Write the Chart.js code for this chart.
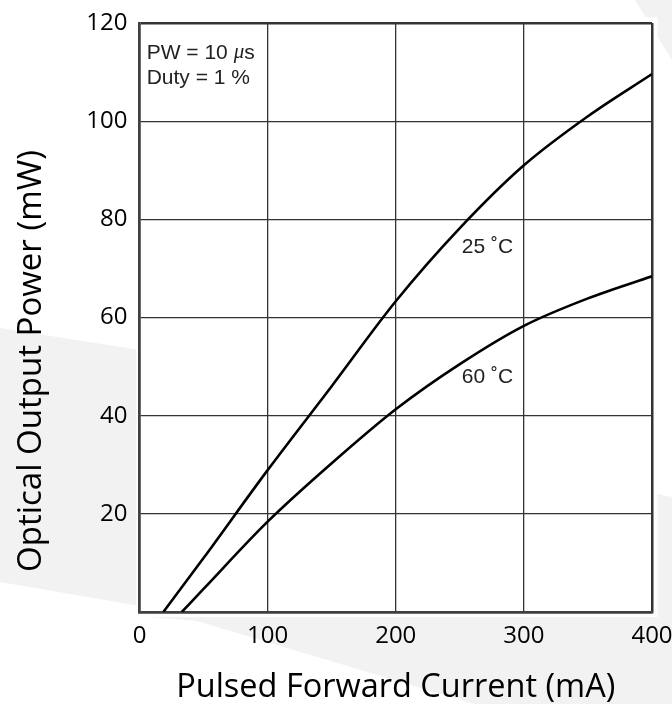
<!DOCTYPE html>
<html>
<head>
<meta charset="utf-8">
<script src="https://cdn.jsdelivr.net/npm/chart.js@4"></script>
<style>
  html, body { margin: 0; padding: 0; background: #fff; }
  #wrap { width: 672px; height: 704px; position: relative; }
</style>
</head>
<body>
<div id="wrap"><canvas id="chart" width="672" height="704"></canvas></div>
<script>
// values
const currents25 = [18.6, 50, 100, 150, 200, 250, 300, 350, 400];
const power25 = [0, 11.0, 28.9, 46.0, 63.3, 78.2, 91.0, 101.0, 109.6];
const currents60 = [33, 50, 100, 150, 200, 250, 300, 350, 400];
const power60 = [0, 4.7, 18.4, 30.3, 41.3, 50.5, 58.3, 63.9, 68.4];

const xTicks = [0, 100, 200, 300, 400];
const yTicks = [20, 40, 60, 80, 100, 120];

const curveLabels = ['25 \u02DAC', '60 \u02DAC'];
const curveLabelX = [251.5, 251.5];
const curveLabelY = [74.3, 47.8];

const yTitle = 'Optical Output Power (mW)';

const pts = (xs, ys) => xs.map((x, i) => ({ x: x, y: ys[i] }));

// gray decorative shapes behind the plot + white panel
const backdrop = {
    id: 'backdrop',
    beforeDraw(chart) {
        const c = chart.ctx;
        const a = chart.chartArea;
        c.save();
        c.fillStyle = '#fff';
        c.fillRect(0, 0, chart.width, chart.height);
        c.fillStyle = '#f2f2f2';
        const polys = [
            [[635, 0], [672, 0], [672, 60]],
            [[0, 328], [140, 350], [140, 606], [0, 582]],
            [[137, 606], [657, 494], [672, 497], [672, 704], [474, 704], [197, 621], [137, 616]]
        ];
        polys.forEach(p => {
            c.beginPath();
            p.forEach((q, i) => i ? c.lineTo(q[0], q[1]) : c.moveTo(q[0], q[1]));
            c.closePath();
            c.fill();
        });
        c.fillStyle = '#fff';
        c.fillRect(a.left - 3, a.top - 6, a.right - a.left + 8.5, a.bottom - a.top + 11);
        c.restore();
    }
};

const notes = {
    id: 'notes',
    afterDatasetsDraw(chart) {
        const c = chart.ctx;
        const xs = chart.scales.x, ys = chart.scales.y;
        c.save();
        c.fillStyle = '#222';
        c.textBaseline = 'middle';
        c.font = '21px "Liberation Sans", Arial, sans-serif';
        // PW = 10 µs / Duty = 1 %
        let px = xs.getPixelForValue(5.6);
        let py = ys.getPixelForValue(113.9);
        c.fillText('PW = 10 ', px, py);
        let w = c.measureText('PW = 10 ').width;
        c.font = 'italic 21px "Liberation Serif", serif';
        c.fillText('\u03BC', px + w, py);
        w += c.measureText('\u03BC').width;
        c.font = '21px "Liberation Sans", Arial, sans-serif';
        c.fillText('s', px + w, py);
        c.fillText('Duty = 1 %', px, ys.getPixelForValue(108.8));
        curveLabels.forEach((t, i) => {
            c.fillText(t, xs.getPixelForValue(curveLabelX[i]), ys.getPixelForValue(curveLabelY[i]));
        });

        // y axis title sits a bit below the plot's middle in the original
        c.fillStyle = '#000';
        c.font = '33px "Open Sans", sans-serif';
        c.textAlign = 'center';
        c.translate(32, 361);
        c.rotate(-Math.PI / 2);
        c.fillText(yTitle, 0, 0);
        c.restore();
    }
};

const gridWidth = (ctx, n) => (ctx.index === 0 || ctx.index === n - 1) ? 2.5 : 1.3;

new Chart(document.getElementById('chart'), {
    type: 'scatter',
    data: {
        datasets: [
            { label: '25 C', data: pts(currents25, power25) },
            { label: '60 C', data: pts(currents60, power60) }
        ].map(d => Object.assign(d, {
            showLine: true,
            borderColor: '#000',
            borderWidth: 2.6,
            pointRadius: 0,
            cubicInterpolationMode: 'monotone'
        }))
    },
    options: {
        responsive: false,
        animation: false,
        layout: { padding: { left: 0, right: 20, top: 23, bottom: 0 } },
        plugins: { legend: { display: false }, tooltip: { enabled: false } },
        scales: {
            x: {
                type: 'linear', min: 0, max: 400,
                afterBuildTicks: s => { s.ticks = xTicks.map(v => ({ value: v })); },
                afterFit: s => { s.height = 92; s.paddingLeft = 0; s.paddingRight = 0; },
                grid: { color: '#333', lineWidth: c => gridWidth(c, xTicks.length), drawTicks: false },
                border: { color: '#404040', width: 2.5 },
                ticks: { color: '#000', padding: 10, maxRotation: 0, font: { family: 'Open Sans', size: 24 } },
                title: { display: true, text: 'Pulsed Forward Current (mA)', color: '#000',
                         font: { family: 'Open Sans', size: 32.5, lineHeight: 1 }, padding: { top: 8, bottom: 0 } }
            },
            y: {
                type: 'linear', min: 0, max: 120,
                afterBuildTicks: s => { s.ticks = [0].concat(yTicks).map(v => ({ value: v })); },
                afterFit: s => { s.width = 139.5; s.paddingTop = 0; s.paddingBottom = 0; },
                grid: { color: '#333', lineWidth: c => gridWidth(c, yTicks.length + 1), drawTicks: false },
                border: { color: '#404040', width: 2.5 },
                ticks: { color: '#000', padding: 12, font: { family: 'Open Sans', size: 24 },
                         callback: v => v === 0 ? '' : v }
            }
        }
    },
    plugins: [backdrop, notes]
});
</script>
</body>
</html>
